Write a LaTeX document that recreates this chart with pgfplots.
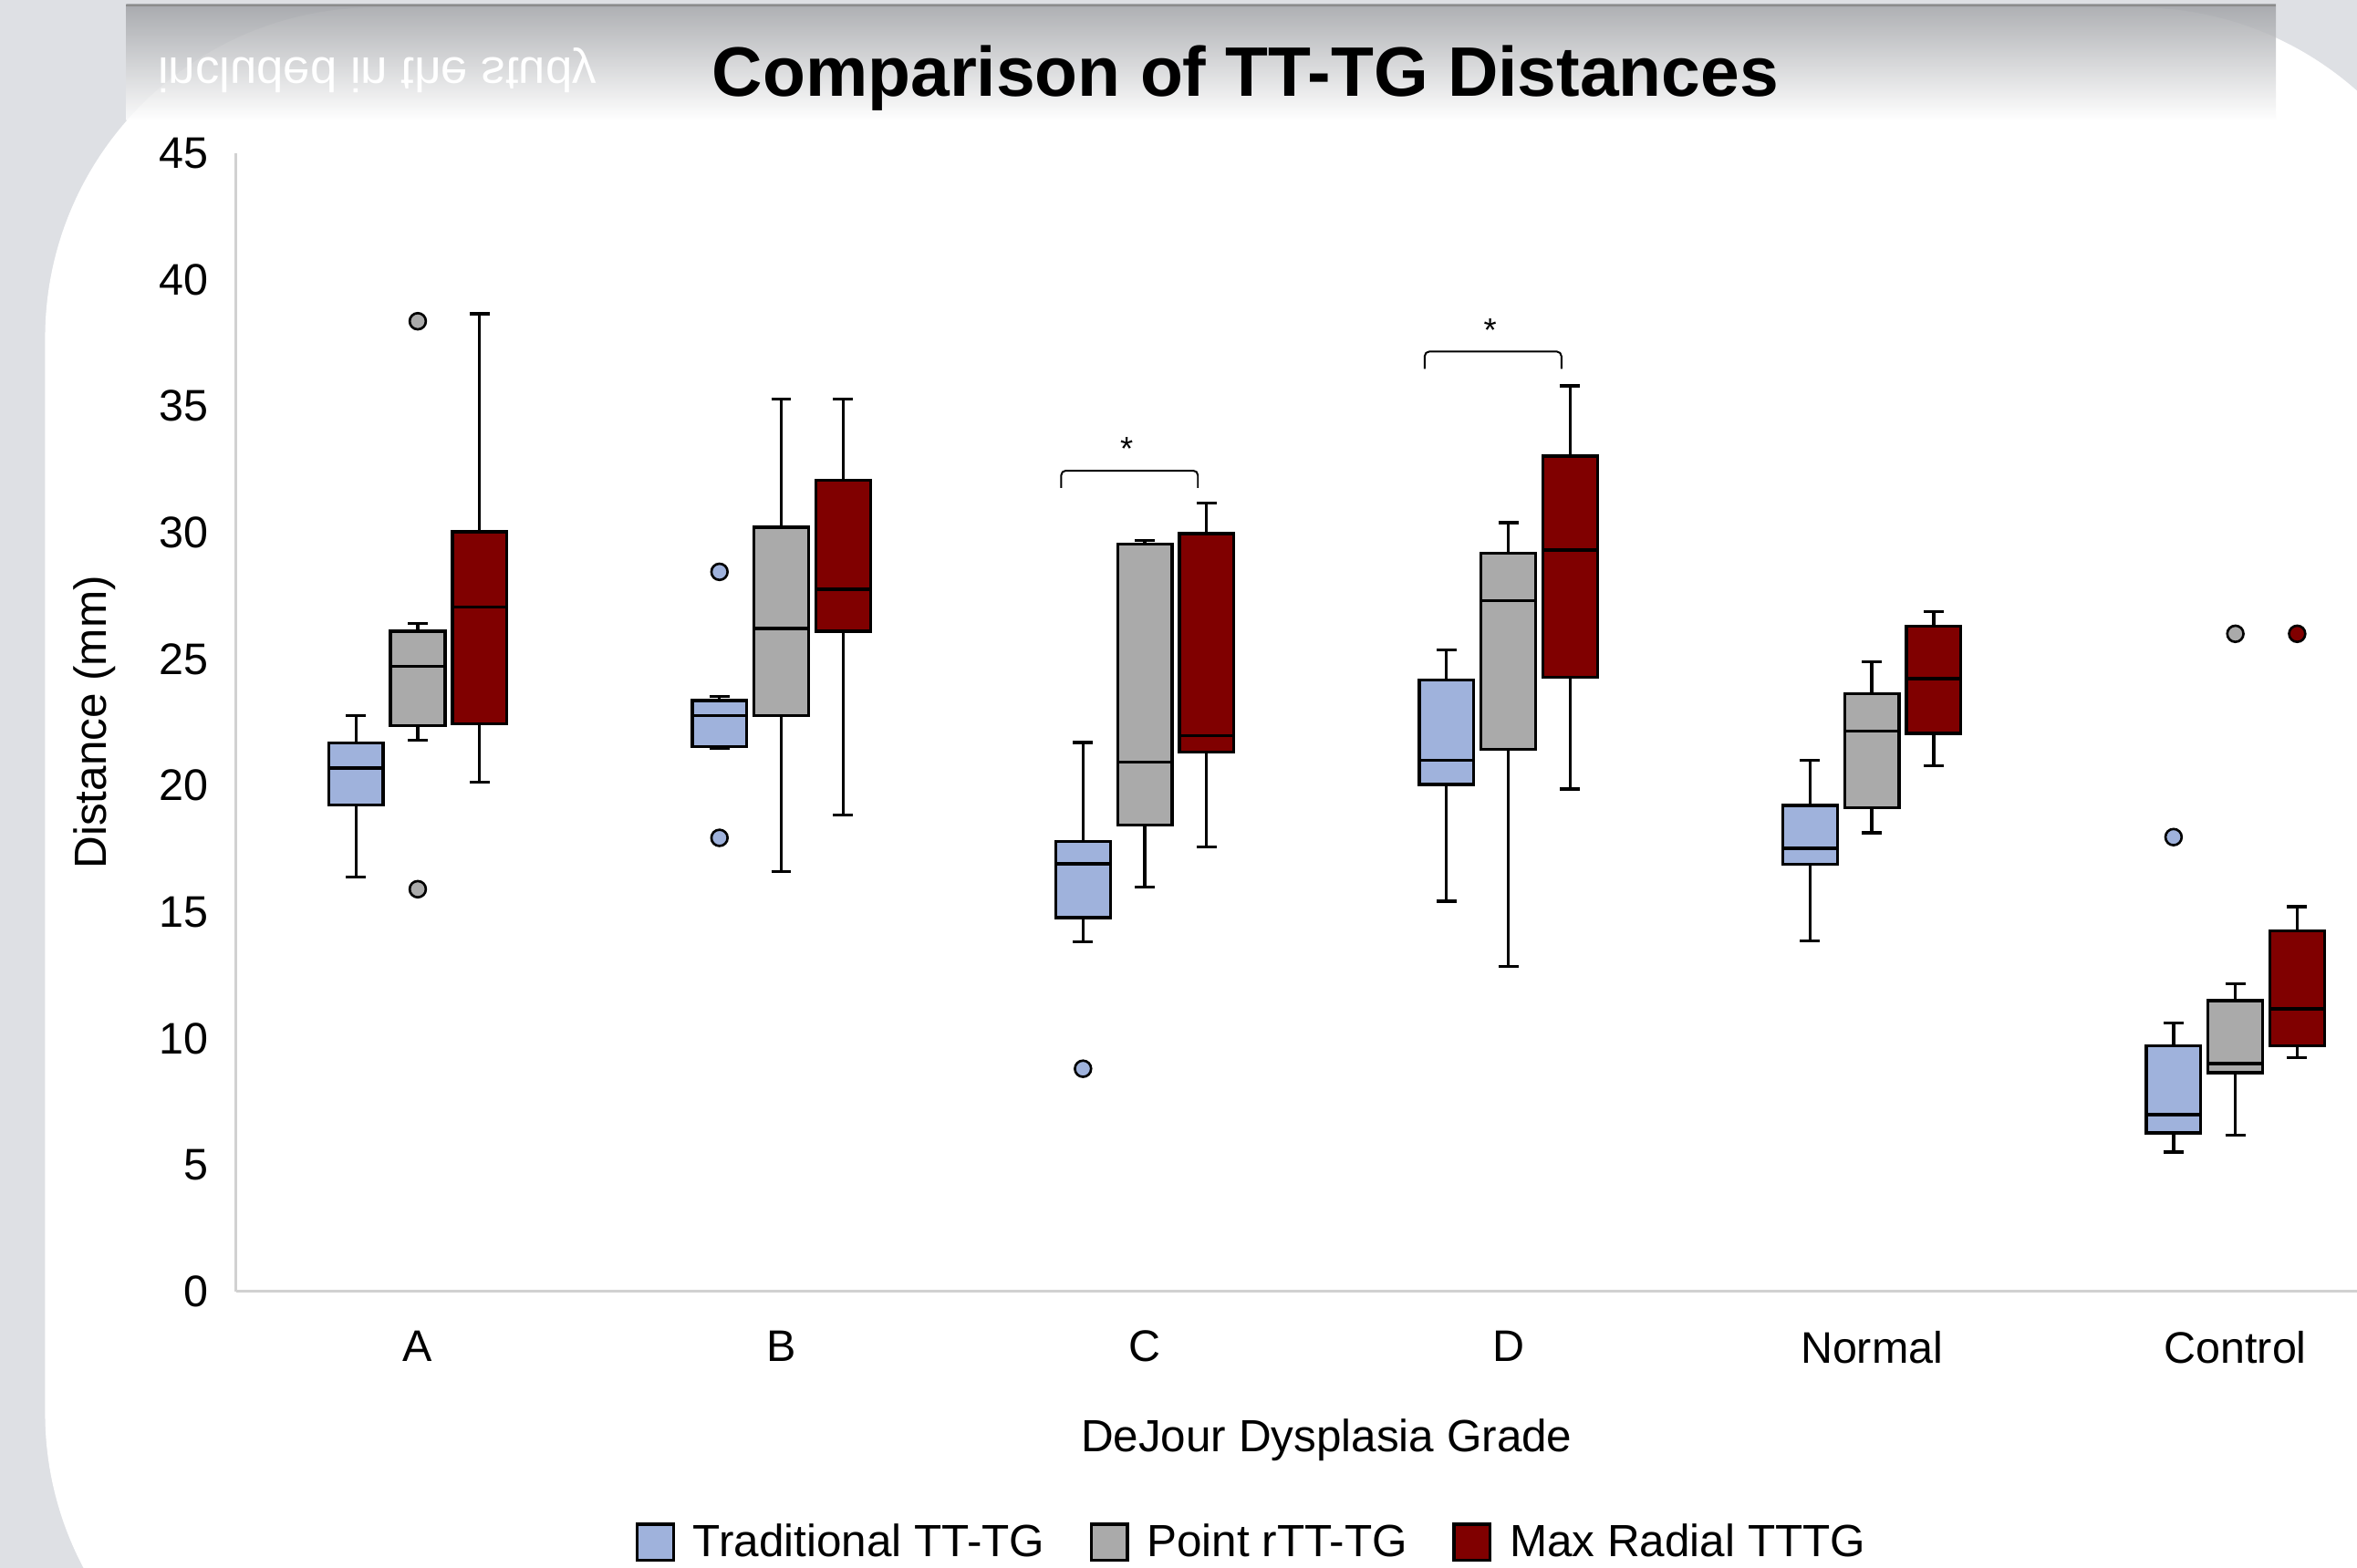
\documentclass[border=0pt]{standalone}
\usepackage{fontspec}
\setmainfont{Liberation Sans}
\usepackage{pgfplots}
\pgfplotsset{compat=1.18}
\usepgfplotslibrary{statistics}
\definecolor{tradblue}{RGB}{159,178,220}
\definecolor{pointgray}{RGB}{170,170,170}
\definecolor{maxred}{RGB}{128,0,0}
\definecolor{bgcol}{RGB}{222,224,228}
\definecolor{bannertop}{RGB}{160,162,166}
\begin{document}
\begin{tikzpicture}
\useasboundingbox (0pt,0pt) rectangle (784pt,-521.5pt);
\clip (0pt,0pt) rectangle (784pt,-521.5pt);
% background
\fill[bgcol] (0pt,0pt) rectangle (784pt,-521.5pt);
\fill[white, rounded corners=110pt] (15pt,-2.5pt) rectangle (821pt,-580pt);
\shade[top color=bannertop, bottom color=white, opacity=0.85] (42pt,-1.5pt) rectangle (757pt,-40pt);
\draw[black!45, line width=0.8pt] (42pt,-1.8pt) -- (757pt,-1.8pt);
\node[white, font=\fontsize{16}{19}\selectfont, anchor=center] at (125.5pt,-23.5pt) {\scalebox{1}[-1]{included in the study}};
% title
\node[anchor=base, font=\bfseries\fontsize{23.3}{28}\selectfont] at (414.25pt,-32pt) {Comparison of TT-TG Distances};
\begin{axis}[
  at={(78.5pt,-429.5pt)}, anchor=south west,
  scale only axis, width=725.5pt, height=378.5pt,
  xmin=-0.5, xmax=5.5, ymin=0, ymax=45,
  axis x line*=bottom, axis y line*=left,
  axis line style={draw=black!18, line width=1pt},
  xtick={0,1,2,3,4,5},
  xticklabels={A,B,C,D,Normal,Control},
  ytick={0,5,...,45},
  major tick length=0pt,
  /pgf/number format/assume math mode=true,
  tick label style={font=\fontsize{14.7}{17}\selectfont},
  yticklabel style={xshift=-5.6pt},
  xticklabel style={yshift=-9.6pt},
  xlabel={DeJour Dysplasia Grade},
  ylabel={Distance (mm)},
  label style={font=\fontsize{15}{18}\selectfont},
  xlabel style={at={(axis description cs:0.5,-0.141)}, anchor=base},
  ylabel style={at={(axis description cs:-0.0648,0.5)}, anchor=center},
  boxplot/draw direction=y,
  boxplot/box extend=0.15,
  boxplot/whisker extend=0.055,
  every boxplot/.style={draw=black, mark=*, mark size=2.7pt},
  legend style={at={(axis description cs:0.4666,-0.2206)}, anchor=center,
    legend columns=-1, draw=none, fill=none,
    font=\fontsize{15}{18}\selectfont,
    /tikz/every odd column/.append style={column sep=4pt},
    /tikz/every even column/.append style={column sep=13pt}},
  clip=false,
]
\addlegendimage{legend image code/.code={\filldraw[fill=tradblue, draw=black, line width=1pt] (0pt,-6pt) rectangle (12pt,6pt);}}
\addlegendentry{Traditional TT-TG}
\addlegendimage{legend image code/.code={\filldraw[fill=pointgray, draw=black, line width=1pt] (0pt,-6pt) rectangle (12pt,6pt);}}
\addlegendentry{Point rTT-TG}
\addlegendimage{legend image code/.code={\filldraw[fill=maxred, draw=black, line width=1pt] (0pt,-6pt) rectangle (12pt,6pt);}}
\addlegendentry{Max Radial TTTG}
% ---------- A
\addplot+[forget plot, draw=black, line width=1pt, fill=tradblue, mark options={fill=tradblue, draw=black, line width=0.8pt},
  boxplot prepared={draw position=-0.17, lower whisker=16.38, lower quartile=19.22, median=20.69, upper quartile=21.69, upper whisker=22.76}]
  coordinates {};
\addplot+[forget plot, draw=black, line width=1pt, fill=pointgray, mark options={fill=pointgray, draw=black, line width=0.8pt},
  boxplot prepared={draw position=0, lower whisker=21.78, lower quartile=22.36, median=24.72, upper quartile=26.10, upper whisker=26.41}]
  coordinates {(0,38.36) (0,15.90)};
\addplot+[forget plot, draw=black, line width=1pt, fill=maxred, mark options={fill=maxred, draw=black, line width=0.8pt},
  boxplot prepared={draw position=0.17, lower whisker=20.12, lower quartile=22.45, median=27.07, upper quartile=30.03, upper whisker=38.66}]
  coordinates {};
% ---------- B
\addplot+[forget plot, draw=black, line width=1pt, fill=tradblue, mark options={fill=tradblue, draw=black, line width=0.8pt},
  boxplot prepared={draw position=0.83, lower whisker=21.47, lower quartile=21.55, median=22.76, upper quartile=23.36, upper whisker=23.53}]
  coordinates {(0,28.45) (0,17.93)};
\addplot+[forget plot, draw=black, line width=1pt, fill=pointgray, mark options={fill=pointgray, draw=black, line width=0.8pt},
  boxplot prepared={draw position=1, lower whisker=16.59, lower quartile=22.76, median=26.21, upper quartile=30.21, upper whisker=35.29}]
  coordinates {};
\addplot+[forget plot, draw=black, line width=1pt, fill=maxred, mark options={fill=maxred, draw=black, line width=0.8pt},
  boxplot prepared={draw position=1.17, lower whisker=18.84, lower quartile=26.10, median=27.76, upper quartile=32.07, upper whisker=35.29}]
  coordinates {};
% ---------- C
\addplot+[forget plot, draw=black, line width=1pt, fill=tradblue, mark options={fill=tradblue, draw=black, line width=0.8pt},
  boxplot prepared={draw position=1.83, lower whisker=13.82, lower quartile=14.78, median=16.90, upper quartile=17.79, upper whisker=21.70}]
  coordinates {(0,8.80)};
\addplot+[forget plot, draw=black, line width=1pt, fill=pointgray, mark options={fill=pointgray, draw=black, line width=0.8pt},
  boxplot prepared={draw position=2, lower whisker=15.98, lower quartile=18.43, median=20.93, upper quartile=29.55, upper whisker=29.68}]
  coordinates {};
\addplot+[forget plot, draw=black, line width=1pt, fill=maxred, mark options={fill=maxred, draw=black, line width=0.8pt},
  boxplot prepared={draw position=2.17, lower whisker=17.58, lower quartile=21.33, median=21.98, upper quartile=29.96, upper whisker=31.18}]
  coordinates {};
% ---------- D
\addplot+[forget plot, draw=black, line width=1pt, fill=tradblue, mark options={fill=tradblue, draw=black, line width=0.8pt},
  boxplot prepared={draw position=2.83, lower whisker=15.42, lower quartile=20.04, median=21.00, upper quartile=24.16, upper whisker=25.36}]
  coordinates {};
\addplot+[forget plot, draw=black, line width=1pt, fill=pointgray, mark options={fill=pointgray, draw=black, line width=0.8pt},
  boxplot prepared={draw position=3, lower whisker=12.84, lower quartile=21.43, median=27.32, upper quartile=29.18, upper whisker=30.39}]
  coordinates {};
\addplot+[forget plot, draw=black, line width=1pt, fill=maxred, mark options={fill=maxred, draw=black, line width=0.8pt},
  boxplot prepared={draw position=3.17, lower whisker=19.86, lower quartile=24.29, median=29.31, upper quartile=33.03, upper whisker=35.80}]
  coordinates {};
% ---------- Normal
\addplot+[forget plot, draw=black, line width=1pt, fill=tradblue, mark options={fill=tradblue, draw=black, line width=0.8pt},
  boxplot prepared={draw position=3.83, lower whisker=13.85, lower quartile=16.88, median=17.52, upper quartile=19.21, upper whisker=21.01}]
  coordinates {};
\addplot+[forget plot, draw=black, line width=1pt, fill=pointgray, mark options={fill=pointgray, draw=black, line width=0.8pt},
  boxplot prepared={draw position=4, lower whisker=18.13, lower quartile=19.13, median=22.16, upper quartile=23.64, upper whisker=24.89}]
  coordinates {};
\addplot+[forget plot, draw=black, line width=1pt, fill=maxred, mark options={fill=maxred, draw=black, line width=0.8pt},
  boxplot prepared={draw position=4.17, lower whisker=20.79, lower quartile=22.06, median=24.23, upper quartile=26.29, upper whisker=26.89}]
  coordinates {};
% ---------- Control
\addplot+[forget plot, draw=black, line width=1pt, fill=tradblue, mark options={fill=tradblue, draw=black, line width=0.8pt},
  boxplot prepared={draw position=4.83, lower whisker=5.50, lower quartile=6.26, median=6.98, upper quartile=9.72, upper whisker=10.60}]
  coordinates {(0,17.96)};
\addplot+[forget plot, draw=black, line width=1pt, fill=pointgray, mark options={fill=pointgray, draw=black, line width=0.8pt},
  boxplot prepared={draw position=5, lower whisker=6.18, lower quartile=8.64, median=9.00, upper quartile=11.49, upper whisker=12.17}]
  coordinates {(0,26.00)};
\addplot+[forget plot, draw=black, line width=1pt, fill=maxred, mark options={fill=maxred, draw=black, line width=0.8pt},
  boxplot prepared={draw position=5.17, lower whisker=9.24, lower quartile=9.72, median=11.17, upper quartile=14.26, upper whisker=15.21}]
  coordinates {(0,26.00)};
% significance brackets
\addplot[forget plot, black, line width=0.6pt, mark=none, rounded corners=1.5pt]
  coordinates {(1.770,31.77) (1.770,32.45) (2.146,32.45) (2.146,31.77)};
\addplot[forget plot, black, line width=0.6pt, mark=none, rounded corners=1.5pt]
  coordinates {(2.770,36.48) (2.770,37.16) (3.146,37.16) (3.146,36.48)};
\node[font=\fontsize{11}{13}\selectfont] at (axis cs:1.95,33.3) {*};
\node[font=\fontsize{11}{13}\selectfont] at (axis cs:2.95,38.0) {*};
\end{axis}
\end{tikzpicture}
\end{document}
